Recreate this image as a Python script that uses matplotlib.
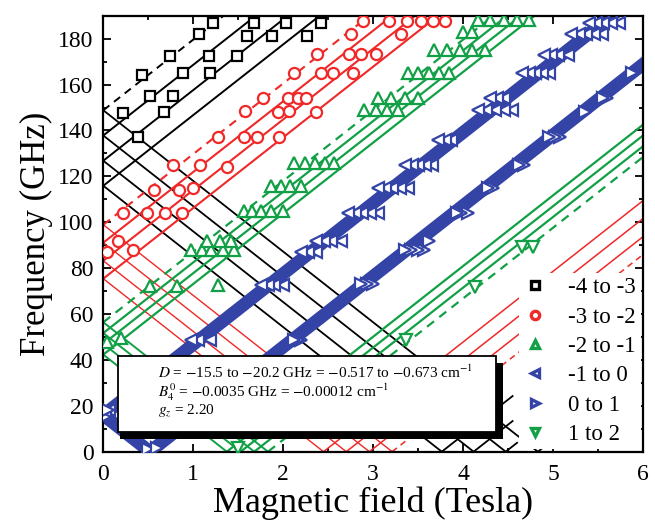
import matplotlib
matplotlib.use('Agg')
import matplotlib.pyplot as plt
from matplotlib.lines import Line2D
from matplotlib.patches import Rectangle
from matplotlib.ticker import MultipleLocator

plt.rcParams['font.family'] = ['Liberation Serif', 'DejaVu Serif']
plt.rcParams['mathtext.fontset'] = 'stix'

# ---------------- data ----------------
SLOPE = 30.8          # GHz per Tesla (g = 2.20)
B_MAX = 6.0
# zero-field frequencies (GHz) of each transition, one per D value (last = dashed)
f0_m4_m3 = [115.9, 126.8, 137.8, 148.8]
f0_m3_m2 = [75.4, 83.2, 91.1, 98.9]
f0_m2_m1 = [42.3, 47.0, 51.7, 56.4]
f0_m1_0 = [13.6, 15.2, 16.7, 18.3]
f0_0_1 = [-13.6, -15.2, -16.7, -18.3]
f0_1_2 = [-42.3, -47.0, -51.7, -56.4]
f0_2_3 = [-75.4, -83.2, -91.1, -98.9]
f0_3_4 = [-115.9, -126.8, -137.8, -148.8]
b_end_3_4 = [4.55, 4.55, 4.6, 4.95]

# measured resonances (field T, frequency GHz)
sq_B = [0.22, 0.39, 0.43, 0.52, 0.67, 0.74, 0.78, 0.89, 1.06, 1.17, 1.19, 1.22,
        1.49, 1.60, 1.67, 1.88, 2.03, 2.27, 2.42]
sq_f = [147.8, 137, 164, 155, 148, 172.5, 155, 165, 182, 172.5, 165, 187,
        172.5, 181, 187, 181, 187, 181, 187]

ci_B = [0.04, 0.33, 0.16, 0.22, 0.49, 0.69, 0.88, 0.56, 0.84, 1.0, 0.77, 1.08, 1.38,
        1.27, 1.56, 1.71, 1.95, 1.58, 1.94, 2.06, 2.36, 1.78, 2.05, 2.16, 2.25,
        2.12, 2.42, 2.55, 2.78, 2.38, 2.73, 2.87, 3.03, 2.75, 3.31,
        2.89, 3.18, 3.38, 3.53, 3.67, 3.8]
ci_f = [87, 88, 92, 104, 104, 104, 104, 114, 114, 115, 125, 125, 124,
        137, 137, 137, 137, 148.5, 148, 148.5, 148, 154, 154, 154, 154,
        165, 165, 165, 165, 173.5, 173.5, 173.5, 173.5, 182, 182,
        187.5, 187.5, 187.5, 187.5, 187.5, 187.5]

tu_B = [0.04, 0.2, 0.52, 0.82, 1.28, 0.97, 1.1, 1.2, 1.33, 1.45, 1.15, 1.3, 1.42,
        1.56, 1.65, 1.75, 1.86, 2.0, 1.86, 1.97, 2.08, 2.2,
        2.12, 2.24, 2.35, 2.46, 2.57, 2.9, 3.03, 3.15, 3.28, 3.05, 3.2, 3.35, 3.5,
        3.39, 3.5, 3.62, 3.73, 3.84, 3.68, 3.82, 3.96, 4.1, 4.24, 4.0, 4.1,
        4.17, 4.3, 4.45, 4.6, 4.73]
tu_f = [48, 49.5, 72, 72, 72.5, 88, 88, 88, 88, 88, 92, 92, 92,
        105, 105, 105, 105, 105, 116, 116, 116, 116,
        125.6, 125.6, 125.6, 125.6, 125.6, 149, 149, 149, 149, 154, 154, 154, 154,
        165, 165, 165, 165, 165, 175, 175, 175, 175, 175, 183, 183,
        188, 188, 188, 188, 188]

tl_B = [0.06, 0.02, 1.19, 1.05, 0.97, 2.0, 1.9, 1.83, 1.75, 2.36, 2.28, 2.2,
        2.64, 2.53, 2.45, 2.37, 3.05, 2.96, 2.88, 2.8, 2.72,
        3.39, 3.3, 3.21, 3.13, 3.05, 3.65, 3.58, 3.5, 3.43, 3.35,
        3.87, 3.8, 3.72, 4.54, 4.45, 4.35, 4.26, 4.17, 4.46, 4.38, 4.3,
        4.95, 4.88, 4.8, 4.73, 4.65, 5.17, 5.06, 4.98, 4.9,
        5.54, 5.45, 5.37, 5.29, 5.2, 5.73, 5.64, 5.56, 5.48, 5.4]
tl_f = [18, 16, 48.6, 48.6, 48.6, 72.5, 72.5, 72.5, 72.5, 87, 87, 87,
        92, 92, 92, 92, 104, 104, 104, 104, 104,
        115, 115, 115, 115, 115, 125, 125, 125, 125, 125,
        136, 136, 136, 149, 149, 149, 149, 149, 154, 154, 154,
        165, 165, 165, 165, 165, 173, 173, 173, 173,
        182, 182, 182, 182, 182, 187, 187, 187, 187, 187]

tr_B = [0.02, 0.05, 0.5, 0.6, 2.2, 2.16, 2.12, 3.0, 2.93, 2.87, 3.57, 3.5, 3.42, 3.35,
        3.62, 4.05, 3.98, 3.93, 4.33, 4.28, 4.68, 4.62, 5.08, 5.02, 4.95,
        5.35, 5.6, 5.55, 5.88]
tr_f = [15, 18, 1, 1.5, 48.6, 48.6, 48.6, 73, 73, 73, 88, 88, 88, 88,
        92, 104, 104, 104, 115, 115, 125, 125, 137, 137, 137,
        148, 154, 154, 165]

td_B = [1.5, 3.37, 4.13, 4.65, 4.78]
td_f = [1.5, 48.6, 71.7, 89, 89]

labels = ['-4 to -3', '-3 to -2', '-2 to -1', '-1 to 0', '0 to 1', '1 to 2']

BLACK = '#000000'
RED = '#f02828'
GREEN = '#12a046'
BLUE = '#3444a6'

# ---------------- figure ----------------
fig = plt.figure(figsize=(6.55, 5.24), dpi=100)
ax = fig.add_axes([0.1577, 0.138, 0.824, 0.832])
ax.set_xlim(0, B_MAX)
ax.set_ylim(0, 190)

DASH = (0, (4, 3))


def draw_group(f0s, color, lw_up, lw_down, dash_last=True, b_ends=None):
    for i, f0 in enumerate(f0s):
        ls_up = DASH if (dash_last and i == len(f0s) - 1) else '-'
        if f0 > 0:
            ax.plot([0, B_MAX], [f0, f0 + SLOPE * B_MAX], color=color, lw=lw_up,
                    ls=ls_up, zorder=2)
        else:
            bz = -f0 / SLOPE
            bend = B_MAX if b_ends is None else b_ends[i]
            ax.plot([0, bz], [-f0, 0], color=color, lw=lw_down, ls='-', zorder=2)
            ax.plot([bz, bend], [0, SLOPE * (bend - bz)], color=color, lw=lw_up,
                    ls=ls_up, zorder=2)


draw_group(f0_m4_m3, BLACK, 1.4, 1.3)
draw_group(f0_3_4, BLACK, 1.3, 1.3, dash_last=False, b_ends=b_end_3_4)
draw_group(f0_m3_m2, RED, 1.5, 1.0)
draw_group(f0_2_3, RED, 1.1, 1.0)
draw_group(f0_m2_m1, GREEN, 1.6, 1.4)
draw_group(f0_1_2, GREEN, 1.6, 1.4)
draw_group(f0_m1_0, BLUE, 3.2, 3.2, dash_last=False)
draw_group(f0_0_1, BLUE, 3.2, 3.2, dash_last=False)

mk = dict(ls='none', markerfacecolor='white', markeredgewidth=1.6, zorder=4)
ax.plot(sq_B, sq_f, marker='s', ms=7, color=BLACK, **mk)
ax.plot(ci_B, ci_f, marker='o', ms=8, color=RED, **mk)
ax.plot(tu_B, tu_f, marker='^', ms=8.5, color=GREEN, **mk)
ax.plot(tl_B, tl_f, marker='<', ms=8.5, color=BLUE, **mk)
ax.plot(tr_B, tr_f, marker='>', ms=8.5, color=BLUE, **mk)
ax.plot(td_B, td_f, marker='v', ms=8.5, color=GREEN, **mk)

# axes styling
ax.xaxis.set_major_locator(MultipleLocator(1))
ax.xaxis.set_minor_locator(MultipleLocator(0.5))
ax.yaxis.set_major_locator(MultipleLocator(20))
ax.yaxis.set_minor_locator(MultipleLocator(10))
ax.tick_params(which='both', direction='in', top=True, right=True, width=1.3)
ax.tick_params(which='major', length=5.5, labelsize=17)
ax.tick_params(which='minor', length=3)
ax.tick_params(axis='y', pad=7)
ax.tick_params(axis='x', pad=9)
for s in ax.spines.values():
    s.set_linewidth(1.6)
ax.set_xlabel('Magnetic field (Tesla)', fontsize=26, labelpad=1)
ax.set_ylabel('Frequency (GHz)', fontsize=25, labelpad=4)

# parameter box with drop shadow
bx0, by0, bx1, by1 = 0.0272, 0.045, 0.727, 0.219
sx, sy = 0.0135, 0.016
ax.add_patch(Rectangle((bx0 + 0.003, by0 - sy), bx1 - bx0 + sx - 0.003, by1 - by0,
                       transform=ax.transAxes, facecolor='black', edgecolor='none',
                       zorder=6, clip_on=False))
ax.add_patch(Rectangle((bx0, by0), bx1 - bx0, by1 - by0, transform=ax.transAxes,
                       facecolor='white', edgecolor='black', lw=1.3, zorder=7,
                       clip_on=False))
tx = 0.101
tkw = dict(transform=ax.transAxes, fontsize=11, va='center', ha='left', zorder=8)
ax.text(tx, 0.183, r'$D$ = $-$15.5 to $-$20.2 GHz = $-$0.517 to $-$0.673 cm$^{-1}$', **tkw)
ax.text(tx, 0.137, r'$B_4^0$ = $-$0.0035 GHz = $-$0.00012 cm$^{-1}$', **tkw)
ax.text(tx, 0.0936, r'$g_z$ = 2.20', **tkw)

# legend
lkw = dict(ls='none', markerfacecolor='white', markeredgewidth=2.4, markersize=6)
handles = [
    Line2D([], [], marker='s', color=BLACK, **lkw),
    Line2D([], [], marker='o', color=RED, **lkw),
    Line2D([], [], marker='^', color=GREEN, **lkw),
    Line2D([], [], marker='<', color=BLUE, **lkw),
    Line2D([], [], marker='>', color=BLUE, **lkw),
    Line2D([], [], marker='v', color=GREEN, **lkw),
]
leg = ax.legend(handles, labels, loc='lower right', bbox_to_anchor=(1.0, 0.0),
                fontsize=16.5, frameon=True, handlelength=1.0, handletextpad=0.95,
                labelspacing=0.36, borderpad=0.2, borderaxespad=0.1)
leg.get_frame().set_facecolor('white')
leg.get_frame().set_edgecolor('none')
leg.get_frame().set_alpha(1.0)
leg.set_zorder(9)

fig.savefig('out.png', dpi=100)
